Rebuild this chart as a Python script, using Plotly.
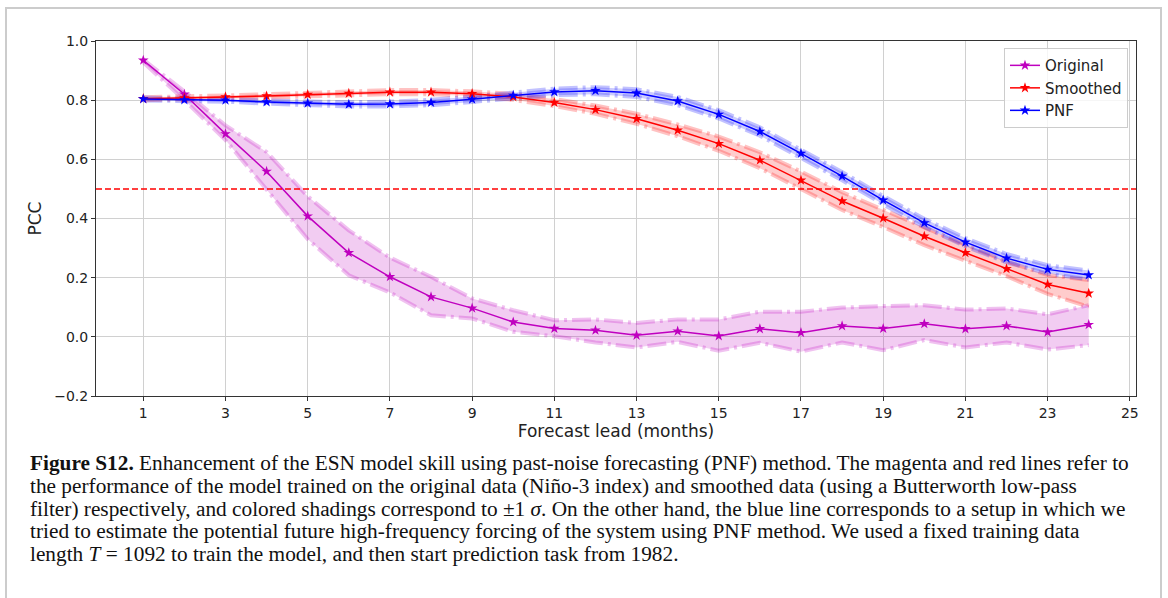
import plotly.graph_objects as go

lead = list(range(1, 25))

orig_mean = [0.935, 0.82, 0.686, 0.559, 0.408, 0.284, 0.203, 0.135, 0.097, 0.050, 0.028, 0.022,
             0.005, 0.019, 0.003, 0.027, 0.014, 0.037, 0.028, 0.044, 0.027, 0.037, 0.016, 0.041]
orig_upper = [0.937, 0.83, 0.715, 0.625, 0.475, 0.36, 0.268, 0.203, 0.13, 0.09, 0.056, 0.059,
              0.047, 0.059, 0.059, 0.085, 0.085, 0.099, 0.104, 0.107, 0.092, 0.096, 0.076, 0.107]
orig_lower = [0.928, 0.80, 0.665, 0.495, 0.33, 0.208, 0.15, 0.073, 0.062, 0.017, 0.002, -0.019,
              -0.036, -0.017, -0.047, -0.02, -0.05, -0.019, -0.045, -0.011, -0.036, -0.019, -0.043, -0.028]

smooth_mean = [0.805, 0.807, 0.811, 0.814, 0.819, 0.823, 0.827, 0.827, 0.822, 0.811, 0.792, 0.768,
               0.737, 0.698, 0.653, 0.597, 0.529, 0.459, 0.401, 0.340, 0.284, 0.230, 0.177, 0.147]
smooth_upper = [0.810, 0.812, 0.816, 0.820, 0.825, 0.829, 0.834, 0.834, 0.830, 0.821, 0.804, 0.782,
                0.754, 0.718, 0.677, 0.624, 0.559, 0.489, 0.431, 0.370, 0.311, 0.255, 0.209, 0.192]
smooth_lower = [0.800, 0.802, 0.806, 0.808, 0.813, 0.817, 0.820, 0.820, 0.814, 0.801, 0.780, 0.754,
                0.720, 0.678, 0.629, 0.570, 0.499, 0.429, 0.371, 0.310, 0.257, 0.205, 0.145, 0.102]

pnf_mean = [0.804, 0.801, 0.800, 0.794, 0.790, 0.786, 0.787, 0.792, 0.803, 0.816, 0.828, 0.832,
            0.824, 0.797, 0.752, 0.694, 0.620, 0.543, 0.462, 0.385, 0.320, 0.266, 0.228, 0.209]
pnf_upper = [0.809, 0.806, 0.805, 0.800, 0.797, 0.793, 0.795, 0.801, 0.812, 0.826, 0.839, 0.844,
             0.837, 0.811, 0.766, 0.708, 0.634, 0.557, 0.476, 0.399, 0.334, 0.280, 0.242, 0.224]
pnf_lower = [0.799, 0.796, 0.795, 0.788, 0.783, 0.779, 0.779, 0.783, 0.794, 0.806, 0.817, 0.820,
             0.811, 0.783, 0.738, 0.680, 0.606, 0.529, 0.448, 0.371, 0.306, 0.252, 0.214, 0.194]

threshold = 0.5
x_ticks = list(range(1, 26, 2))

series = [
    ("Original", orig_mean, orig_upper, orig_lower, "#bf00bf", "rgba(191,0,191,0.2)", "rgba(191,0,191,0.24)"),
    ("Smoothed", smooth_mean, smooth_upper, smooth_lower, "#ff0000", "rgba(255,0,0,0.2)", "rgba(255,0,0,0.24)"),
    ("PNF", pnf_mean, pnf_upper, pnf_lower, "#0000ff", "rgba(0,0,255,0.2)", "rgba(0,0,255,0.24)"),
]

DASHDOT = "19px,5px,3px,5px"

fig = go.Figure()

for name, m, up, lo, col, fillc, edgec in series:
    fig.add_trace(go.Scatter(x=lead, y=lo, mode="lines", showlegend=False, hoverinfo="skip",
                             line=dict(color=edgec, width=4, dash=DASHDOT)))
    fig.add_trace(go.Scatter(x=lead, y=up, mode="lines", showlegend=False, hoverinfo="skip",
                             fill="tonexty", fillcolor=fillc,
                             line=dict(color=edgec, width=4, dash=DASHDOT)))

for name, m, up, lo, col, fillc, edgec in series:
    fig.add_trace(go.Scatter(x=lead, y=m, mode="lines+markers", name=name,
                             line=dict(color=col, width=1.5),
                             marker=dict(symbol="star", size=8, color=col, line=dict(width=0))))

fig.add_shape(type="line", xref="paper", x0=0, x1=1, yref="y", y0=threshold, y1=threshold,
              line=dict(color="#ff0000", width=1.5, dash="6px,3px"))

# outer frame
fig.add_shape(type="rect", xref="paper", yref="paper",
              x0=(6 - 96) / 1040, x1=(1161 - 96) / 1040,
              y0=(396 - 8) / 355, y1=(396 - 640) / 355,
              line=dict(color="#cccccc", width=2), fillcolor="rgba(0,0,0,0)", layer="below")

caption_lines = [
    "<b>Figure S12.</b> Enhancement of the ESN model skill using past-noise forecasting (PNF) method. The magenta and red lines refer to",
    "the performance of the model trained on the original data (Niño-3 index) and smoothed data (using a Butterworth low-pass",
    "filter) respectively, and colored shadings correspond to ±1 <i>σ</i>. On the other hand, the blue line corresponds to a setup in which we",
    "tried to estimate the potential future high-frequency forcing of the system using PNF method. We used a fixed training data",
    "length <i>T</i> = 1092 to train the model, and then start prediction task from 1982.",
]
caption_y = [463, 486, 508.5, 531, 553.5]
for txt, yp in zip(caption_lines, caption_y):
    fig.add_annotation(text=txt, xref="paper", yref="paper",
                       x=(28 - 96) / 1040, y=(396 - yp) / 355,
                       xanchor="left", yanchor="middle", showarrow=False,
                       font=dict(family="Liberation Serif", size=21.3, color="#111111"))

axis_common = dict(showgrid=True, gridcolor="#d0d0d0", gridwidth=1, zeroline=False,
                   showline=True, linecolor="#333333", linewidth=1, mirror=True,
                   ticks="outside", ticklen=4, tickcolor="#333333",
                   tickfont=dict(family="DejaVu Sans", size=14, color="#222222"))

fig.update_layout(
    width=1168, height=598,
    margin=dict(l=96, r=32, t=41, b=202),
    paper_bgcolor="white", plot_bgcolor="white",
    font=dict(family="DejaVu Sans", color="#222222"),
    xaxis=dict(range=[-0.15, 25.15], tickvals=x_ticks,
               title=dict(text="Forecast lead (months)", font=dict(size=17), standoff=3),
               **axis_common),
    yaxis=dict(range=[-0.2, 1.0], dtick=0.2, tick0=0, tickformat=".1f",
               title=dict(text="PCC", font=dict(size=17), standoff=8),
               **axis_common),
    legend=dict(x=0.9923, y=0.980, xanchor="right", yanchor="top", traceorder="normal",
                bgcolor="rgba(255,255,255,0.8)", bordercolor="#cccccc", borderwidth=1,
                font=dict(family="DejaVu Sans", size=15, color="#222222")),
    showlegend=True,
)

fig.write_html("out.html")
